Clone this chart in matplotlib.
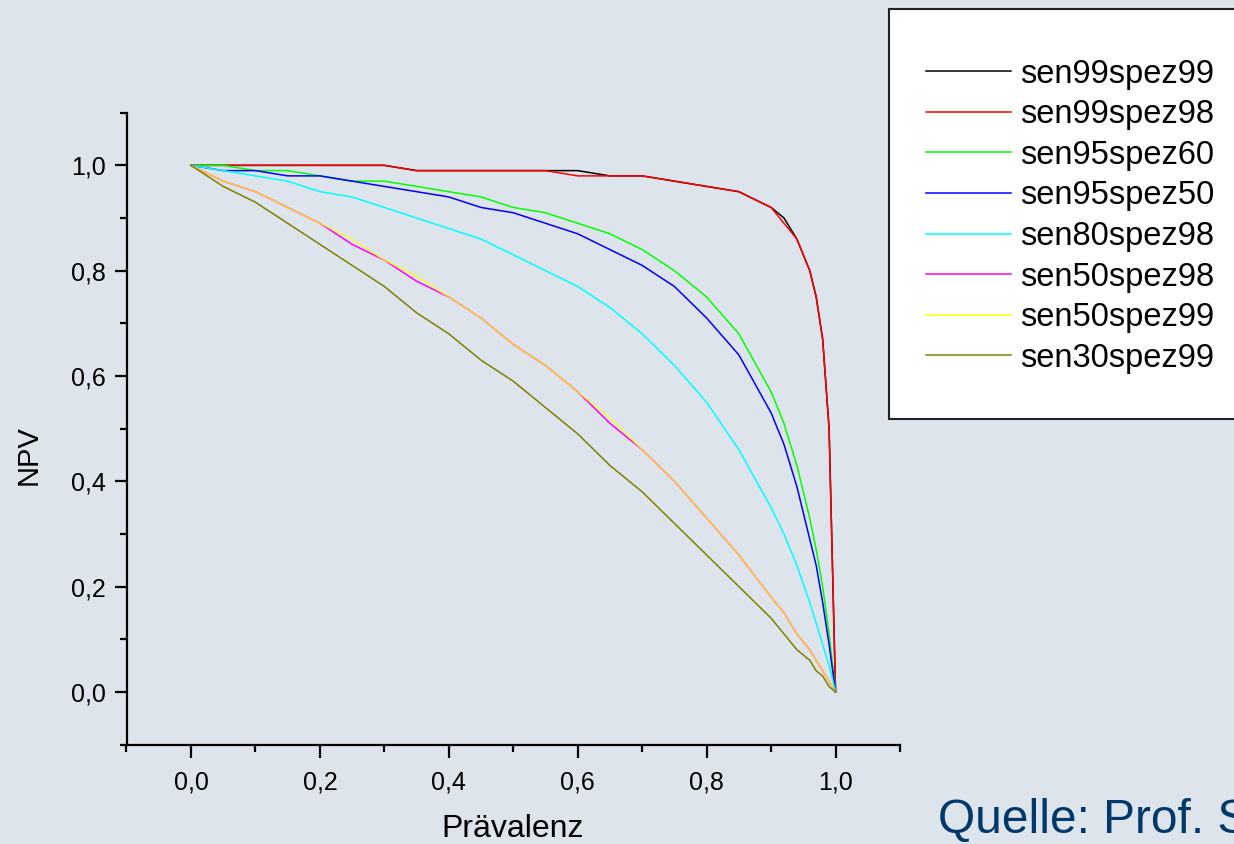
import matplotlib
matplotlib.use('Agg')
import matplotlib.pyplot as plt
from matplotlib.patches import Rectangle
from matplotlib.ticker import FixedLocator

plt.rcParams['font.family'] = ['Liberation Sans', 'DejaVu Sans']

# ---------------- data ----------------
prevalence = [0.00, 0.05, 0.10, 0.15, 0.20, 0.25, 0.30, 0.35, 0.40, 0.45, 0.50,
              0.55, 0.60, 0.65, 0.70, 0.75, 0.80, 0.85, 0.90, 0.92, 0.94, 0.96,
              0.97, 0.98, 0.99, 1.00]

sen99spez99 = [1.00, 1.00, 1.00, 1.00, 1.00, 1.00, 1.00, 0.99, 0.99, 0.99, 0.99,
               0.99, 0.99, 0.98, 0.98, 0.97, 0.96, 0.95, 0.92, 0.90, 0.86, 0.80,
               0.75, 0.67, 0.50, 0.00]
sen99spez98 = [1.00, 1.00, 1.00, 1.00, 1.00, 1.00, 1.00, 0.99, 0.99, 0.99, 0.99,
               0.99, 0.98, 0.98, 0.98, 0.97, 0.96, 0.95, 0.92, 0.89, 0.86, 0.80,
               0.75, 0.67, 0.50, 0.00]
sen95spez60 = [1.00, 1.00, 0.99, 0.99, 0.98, 0.97, 0.97, 0.96, 0.95, 0.94, 0.92,
               0.91, 0.89, 0.87, 0.84, 0.80, 0.75, 0.68, 0.57, 0.51, 0.43, 0.33,
               0.27, 0.20, 0.11, 0.00]
sen95spez50 = [1.00, 0.99, 0.99, 0.98, 0.98, 0.97, 0.96, 0.95, 0.94, 0.92, 0.91,
               0.89, 0.87, 0.84, 0.81, 0.77, 0.71, 0.64, 0.53, 0.47, 0.39, 0.29,
               0.24, 0.17, 0.09, 0.00]
sen80spez98 = [1.00, 0.99, 0.98, 0.97, 0.95, 0.94, 0.92, 0.90, 0.88, 0.86, 0.83,
               0.80, 0.77, 0.73, 0.68, 0.62, 0.55, 0.46, 0.35, 0.30, 0.24, 0.17,
               0.13, 0.09, 0.05, 0.00]
sen50spez98 = [1.00, 0.97, 0.95, 0.92, 0.89, 0.85, 0.82, 0.78, 0.75, 0.71, 0.66,
               0.62, 0.57, 0.51, 0.46, 0.40, 0.33, 0.26, 0.18, 0.15, 0.11, 0.08,
               0.06, 0.04, 0.02, 0.00]
sen50spez99 = [1.00, 0.97, 0.95, 0.92, 0.89, 0.86, 0.82, 0.79, 0.75, 0.71, 0.66,
               0.62, 0.57, 0.52, 0.46, 0.40, 0.33, 0.26, 0.18, 0.15, 0.11, 0.08,
               0.06, 0.04, 0.02, 0.00]
sen30spez99 = [1.00, 0.96, 0.93, 0.89, 0.85, 0.81, 0.77, 0.72, 0.68, 0.63, 0.59,
               0.54, 0.49, 0.43, 0.38, 0.32, 0.26, 0.20, 0.14, 0.11, 0.08, 0.06,
               0.04, 0.03, 0.01, 0.00]

series_names = ['sen99spez99', 'sen99spez98', 'sen95spez60', 'sen95spez50',
                'sen80spez98', 'sen50spez98', 'sen50spez99', 'sen30spez99']
series_values = [sen99spez99, sen99spez98, sen95spez60, sen95spez50,
                 sen80spez98, sen50spez98, sen50spez99, sen30spez99]
series_colors = ['#000000', '#ff0000', '#00ff00', '#0000ff',
                 '#00ffff', '#ff00ff', '#ffff00', '#808000']
series_alpha = [1, 1, 1, 1, 1, 1, 0.8, 1]

x_ticks = [0.0, 0.2, 0.4, 0.6, 0.8, 1.0]
x_tick_labels = ['0,0', '0,2', '0,4', '0,6', '0,8', '1,0']
y_ticks = [0.0, 0.2, 0.4, 0.6, 0.8, 1.0]
y_tick_labels = ['0,0', '0,2', '0,4', '0,6', '0,8', '1,0']
minor_ticks = [-0.1, 0.1, 0.3, 0.5, 0.7, 0.9, 1.1]

# ---------------- figure ----------------
W, H = 1234, 844
bg = '#dee4ec'
fig = plt.figure(figsize=(W / 100, H / 100), dpi=100)
fig.patch.set_facecolor(bg)

ax = fig.add_axes([126.5 / W, 1 - 744.5 / H, (900 - 126.5) / W, (744.5 - 112.7) / H])
ax.set_facecolor(bg)

for name, vals, col, al in zip(series_names, series_values, series_colors, series_alpha):
    ax.plot(prevalence, vals, color=col, lw=1.1, alpha=al, label=name)

ax.set_xlim(-0.1, 1.1)
ax.set_ylim(-0.1, 1.1)
for s in ['top', 'right']:
    ax.spines[s].set_visible(False)
for s in ['left', 'bottom']:
    ax.spines[s].set_linewidth(1.6)

ax.set_xticks(x_ticks)
ax.set_xticklabels(x_tick_labels)
ax.set_yticks(y_ticks)
ax.set_yticklabels(y_tick_labels)
ax.xaxis.set_minor_locator(FixedLocator(minor_ticks))
ax.yaxis.set_minor_locator(FixedLocator(minor_ticks))
ax.tick_params(axis='both', which='major', length=9, width=1.6, labelsize=18,
               direction='out')
ax.tick_params(axis='x', which='major', pad=10)
ax.tick_params(axis='y', which='major', pad=6)
ax.tick_params(axis='both', which='minor', length=5, width=1.6, direction='out')

# axis labels
fig.text(513 / W, 1 - 836.7 / H, 'Prävalenz', ha='center', va='baseline', fontsize=23)
fig.text(29 / W, 1 - 455 / H, 'NPV', rotation=90, ha='center', va='center', fontsize=21)

# legend frame and legend
fig.add_artist(Rectangle((889 / W, 1 - 419 / H), (1300 - 889) / W, (419 - 9.3) / H,
                         transform=fig.transFigure, facecolor='white',
                         edgecolor='#222222', lw=1.5, zorder=1))
handles, labels = ax.get_legend_handles_labels()
leg = fig.legend(handles, labels, loc='upper left',
                 bbox_to_anchor=(926 / W, 1 - 58.5 / H), frameon=False,
                 fontsize=23.5, handlelength=2.6, handletextpad=0.28,
                 labelspacing=0.295, borderpad=0, borderaxespad=0)
leg.set_zorder(5)
for lh in leg.get_lines():
    lh.set_alpha(1)

# source note (cut off at the right edge, as in the original)
fig.text(938 / W, 1 - 832.7 / H, 'Quelle: Prof. S', ha='left', va='baseline',
         fontsize=34.5, color='#00386a')

fig.savefig('out.png', dpi=100, facecolor=bg)
